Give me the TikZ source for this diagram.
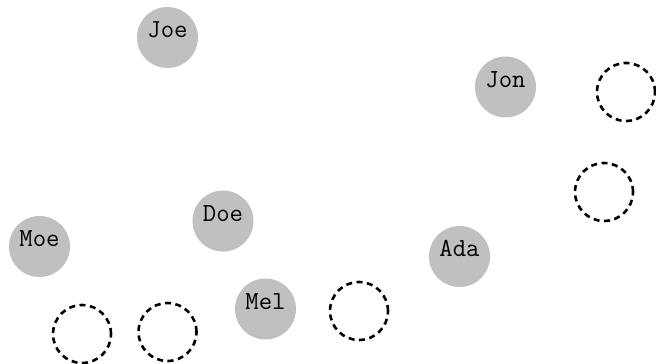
\documentclass[tikz,border=0pt]{standalone}
\usepackage{fontspec}
\begin{document}
\begin{tikzpicture}[x=1pt,y=-1pt,
  person/.style={circle,fill=personfill,minimum size=61pt,inner sep=0pt},
  slot/.style={circle,draw=black,line width=2.6pt,dash pattern=on 6pt off 4.5pt,minimum size=58pt,inner sep=0pt},
  label text/.style={anchor=base,font=\ttfamily\fontsize{26}{26}\selectfont,inner sep=0pt}]
\definecolor{personfill}{HTML}{C0C0C0}
\useasboundingbox (0,0) rectangle (656,364);
% filled people
\node[person] (joe) at (167.5,37.5) {};
\node[person] (jon) at (505.5,87) {};
\node[person] (doe) at (223,221) {};
\node[person] (moe) at (39.5,246.5) {};
\node[person] (ada) at (459.5,256.5) {};
\node[person] (mel) at (265.5,309) {};
% names
\node[label text] (joet) at (joe.center) {Joe};
\node[label text] (jont) at (jon.center) {Jon};
\node[label text] (doet) at (doe.center) {Doe};
\node[label text] (moet) at (moe.center) {Moe};
\node[label text] (adat) at (ada.center) {Ada};
\node[label text] (melt) at (mel.center) {Mel};
% empty slots
\node[slot] (s1) at (626,92) {};
\node[slot] (s2) at (604,192) {};
\node[slot] (s3) at (359,311) {};
\node[slot] (s4) at (82,334) {};
\node[slot] (s5) at (167.5,332) {};
\end{tikzpicture}
\end{document}
